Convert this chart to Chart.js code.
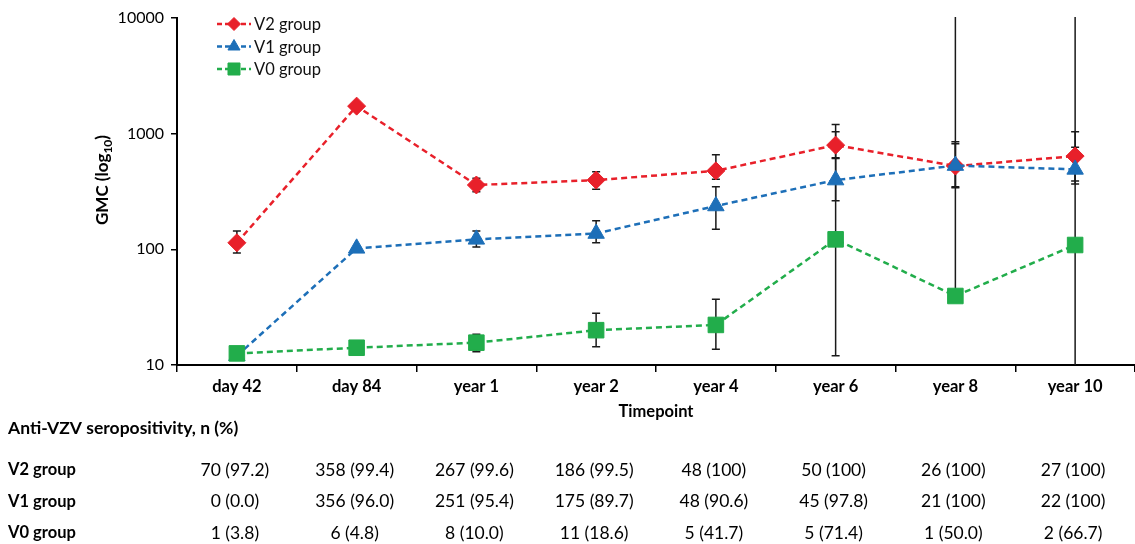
<!DOCTYPE html>
<html lang="en">
<head>
<meta charset="UTF-8">
<title>Anti-VZV GMC by timepoint</title>
<script src="https://cdn.jsdelivr.net/npm/chart.js@4.4.1/dist/chart.umd.min.js"></script>
<style>
  html, body { margin: 0; padding: 0; background: #fff; overflow: hidden; }
  #wrap { width: 1135px; height: 544px; position: relative; }
  #gmcChart { display: block; }
</style>
</head>
<body>
<div id="wrap"><canvas id="gmcChart"></canvas></div>
<script>
const timepoints = ['day 42', 'day 84', 'year 1', 'year 2', 'year 4', 'year 6', 'year 8', 'year 10'];
const yTicks = [10, 100, 1000, 10000];

// GMC values and 95% CI bounds (null = no bar drawn)
const v2Gmc  = [114, 1730, 360, 397, 477, 796, 525, 640];
const v2Low  = [93, null, 315, 330, 403, 610, 340, 389];
const v2High = [144, null, 411, 469, 658, 1038, 851, 1038];

const v1Gmc  = [12.0, 102, 122, 137, 237, 397, 530, 491];
const v1Low  = [null, null, 105, 114, 149, 263, 347, 367];
const v1High = [null, null, 144, 177, 347, 619, 818, 762];

const v0Gmc  = [12.6, 14.1, 15.6, 20.0, 22.2, 122, 39.5, 109];
const v0Low  = [null, null, 13.0, 14.4, 13.7, 12.0, null, 1];
const v0High = [null, null, 18.4, 28, 37, 1200, 100000, 100000];

// seropositivity table below the chart
const rowLabels = ['V2 group', 'V1 group', 'V0 group'];
const v2Sero = ['70 (97.2)', '358 (99.4)', '267 (99.6)', '186 (99.5)', '48 (100)', '50 (100)', '26 (100)', '27 (100)'];
const v1Sero = ['0 (0.0)', '356 (96.0)', '251 (95.4)', '175 (89.7)', '48 (90.6)', '45 (97.8)', '21 (100)', '22 (100)'];
const v0Sero = ['1 (3.8)', '6 (4.8)', '8 (10.0)', '11 (18.6)', '5 (41.7)', '5 (71.4)', '1 (50.0)', '2 (66.7)'];

const RED = '#E8202A', BLUE = '#1D6FB8', GREEN = '#22AD4B';
const FONT = 'Lato, "Open Sans", sans-serif';

const errorBars = {
  id: 'errorBars',
  beforeDatasetsDraw(chart) {
    const { ctx, chartArea, scales: { x, y } } = chart;
    const sets = [[v2Gmc, v2Low, v2High], [v1Gmc, v1Low, v1High], [v0Gmc, v0Low, v0High]];
    ctx.save();
    ctx.beginPath();
    ctx.rect(chartArea.left, chartArea.top - 1, chartArea.right - chartArea.left, chartArea.bottom - chartArea.top + 1);
    ctx.clip();
    ctx.strokeStyle = '#1a1a1a';
    ctx.lineWidth = 1.5;
    sets.forEach(([mid, lo, hi]) => {
      mid.forEach((m, i) => {
        if (lo[i] == null && hi[i] == null) return;
        const px = x.getPixelForValue(i);
        const pm = y.getPixelForValue(m);
        const pl = lo[i] == null ? pm : y.getPixelForValue(lo[i]);
        const ph = hi[i] == null ? pm : y.getPixelForValue(hi[i]);
        ctx.beginPath();
        ctx.moveTo(px, pl);
        ctx.lineTo(px, ph);
        if (lo[i] != null) { ctx.moveTo(px - 4, pl); ctx.lineTo(px + 4, pl); }
        if (hi[i] != null) { ctx.moveTo(px - 4, ph); ctx.lineTo(px + 4, ph); }
        ctx.stroke();
      });
    });
    ctx.restore();
  }
};

const extras = {
  id: 'extras',
  afterDraw(chart) {
    const { ctx, chartArea, scales: { x } } = chart;
    ctx.save();
    ctx.fillStyle = '#000';

    // y axis title with subscript
    ctx.save();
    ctx.translate(103, 180);
    ctx.rotate(-Math.PI / 2);
    ctx.textBaseline = 'middle';
    ctx.font = 'bold 17px ' + FONT;
    const a = 'GMC (log', b = '10', c = ')';
    const wa = ctx.measureText(a).width, wc = ctx.measureText(c).width;
    ctx.font = 'bold 12px ' + FONT;
    const wb = ctx.measureText(b).width;
    let sx = -(wa + wb + wc) / 2;
    ctx.font = 'bold 17px ' + FONT;
    ctx.textAlign = 'left';
    ctx.fillText(a, sx, 0);
    ctx.font = 'bold 12px ' + FONT;
    ctx.fillText(b, sx + wa, 5);
    ctx.font = 'bold 17px ' + FONT;
    ctx.fillText(c, sx + wa + wb, 0);
    ctx.restore();

    // legend
    const leg = [['V2 group', RED, 'rectRot', 6.5], ['V1 group', BLUE, 'triangle', 7], ['V0 group', GREEN, 'rect', 8.5]];
    leg.forEach(([txt, col, style, r], i) => {
      const ly = chartArea.top + 6 + i * 22.5;
      const lx = chartArea.left + 40;
      ctx.strokeStyle = col;
      ctx.fillStyle = col;
      ctx.lineWidth = 2.5;
      ctx.setLineDash([5, 3]);
      ctx.beginPath();
      ctx.moveTo(lx, ly);
      ctx.lineTo(lx + 34, ly);
      ctx.stroke();
      ctx.setLineDash([]);
      ctx.lineWidth = 1;
      Chart.helpers.drawPoint(ctx, { pointStyle: style, radius: r, borderWidth: 1, rotation: 0 }, lx + 17, ly);
      ctx.fillStyle = '#111';
      ctx.font = '16.5px ' + FONT;
      ctx.textAlign = 'left';
      ctx.textBaseline = 'middle';
      ctx.fillText(txt, lx + 37, ly + 1);
    });

    // x axis title
    ctx.fillStyle = '#000';
    ctx.textAlign = 'center';
    ctx.textBaseline = 'middle';
    ctx.font = 'bold 16.5px ' + FONT;
    ctx.fillText('Timepoint', (chartArea.left + chartArea.right) / 2, chartArea.bottom + 47);

    // table
    ctx.textAlign = 'left';
    ctx.font = 'bold 17.5px ' + FONT;
    ctx.fillText('Anti-VZV seropositivity, n (%)', 8, chartArea.bottom + 63);
    const rows = [v2Sero, v1Sero, v0Sero];
    rows.forEach((vals, r) => {
      const ry = chartArea.bottom + 105 + r * 31.5;
      ctx.font = 'bold 16.5px ' + FONT;
      ctx.textAlign = 'left';
      ctx.fillText(rowLabels[r], 8, ry);
      ctx.font = '17.5px ' + FONT;
      ctx.textAlign = 'center';
      vals.forEach((v, i) => ctx.fillText(v, x.getPixelForValue(i) - 2, ry));
    });
    ctx.restore();
  }
};

const line = (label, data, color, style, radius, order) => ({
  label, data, order,
  borderColor: color,
  backgroundColor: color,
  borderWidth: 2.5,
  borderDash: [6, 4],
  pointStyle: style,
  pointRadius: radius,
  pointHoverRadius: radius,
  pointBorderWidth: 1,
  tension: 0,
  clip: false
});

new Chart(document.getElementById('gmcChart'), {
  type: 'line',
  data: {
    labels: timepoints,
    datasets: [
      line('V2 group', v2Gmc, RED, 'rectRot', 9, 2),
      line('V1 group', v1Gmc, BLUE, 'triangle', 9.5, 1),
      line('V0 group', v0Gmc, GREEN, 'rect', 11, 0)
    ]
  },
  options: {
    responsive: true,
    maintainAspectRatio: false,
    animation: false,
    devicePixelRatio: 1,
    layout: { autoPadding: false, padding: { left: 0, top: 18, right: 0, bottom: 0 } },
    plugins: { legend: { display: false }, tooltip: { enabled: false } },
    scales: {
      x: {
        offset: true,
        grid: { offset: true, drawOnChartArea: false, drawTicks: true, tickLength: 7, color: '#000', lineWidth: 1.5 },
        border: { display: true, color: '#000', width: 2 },
        ticks: { color: '#000', font: { family: FONT, size: 16.5, weight: 'bold' }, padding: 5, maxRotation: 0, autoSkip: false },
        afterFit(s) { s.height = 179; s.paddingLeft = 0; s.paddingRight = 0; }
      },
      y: {
        type: 'logarithmic',
        min: 10,
        max: 10000,
        grid: { drawOnChartArea: false, drawTicks: true, tickLength: 6, color: '#000', lineWidth: 1.5 },
        border: { display: true, color: '#000', width: 2 },
        ticks: { color: '#000', font: { family: FONT, size: 16 }, padding: 7, callback: v => String(v) },
        afterBuildTicks(s) { s.ticks = yTicks.map(v => ({ value: v })); },
        afterFit(s) { s.width = 177; }
      }
    }
  },
  plugins: [errorBars, extras]
});
</script>
</body>
</html>
